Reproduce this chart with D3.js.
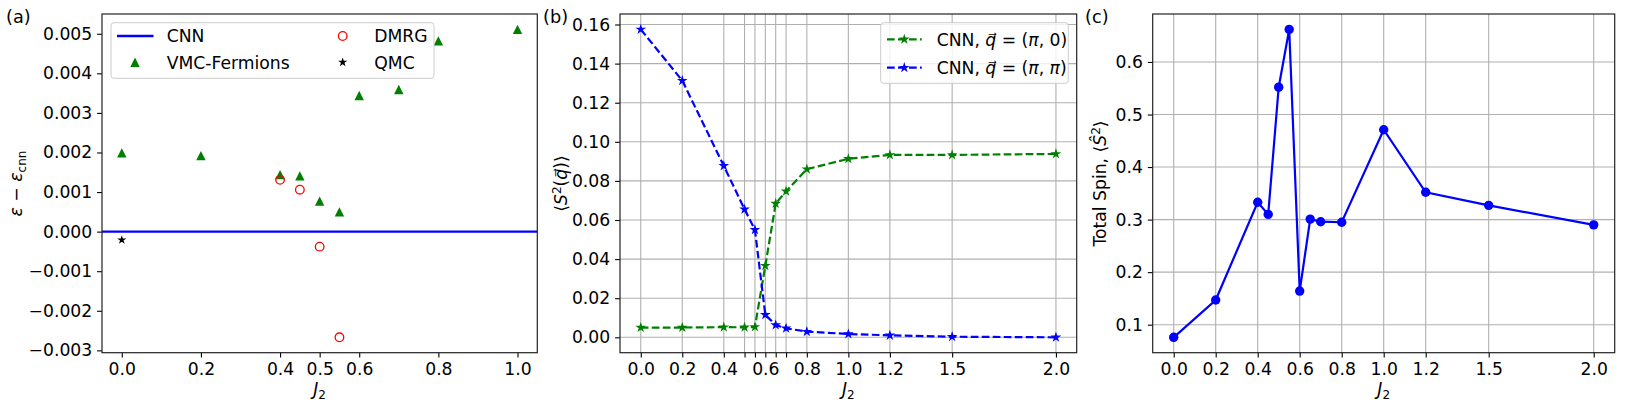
<!DOCTYPE html>
<html>
<head>
<meta charset="utf-8">
<script src="https://cdn.jsdelivr.net/npm/d3@7"></script>
<style>
  body { margin: 0; background: #fff; }
  svg text { font-family: "DejaVu Sans", sans-serif; }
</style>
</head>
<body>
<div id="cont"></div>
<script>
// ---- data ----
// panel (a): energy difference vs J2
var j2Vmc = [0, 0.2, 0.4, 0.45, 0.5, 0.55, 0.6, 0.7, 0.8, 1.0];
var vmcFermions = [0.00199, 0.00192, 0.00144, 0.00141, 0.00077, 0.00050, 0.00344, 0.00359, 0.00482, 0.00511];
var j2Dmrg = [0.4, 0.45, 0.5, 0.55];
var dmrg = [0.00131, 0.00106, -0.00038, -0.00267];
var j2Qmc = [0];
var qmc = [-0.00021];
var ticksA = [0, 0.2, 0.4, 0.5, 0.6, 0.8, 1.0];

// panel (b): structure factor
var j2B = [0, 0.2, 0.4, 0.5, 0.55, 0.6, 0.65, 0.7, 0.8, 1.0, 1.2, 1.5, 2.0];
var sPi0 = [0.0050, 0.0050, 0.0052, 0.0051, 0.0053, 0.0366, 0.0684, 0.0747, 0.0860, 0.0913, 0.0933, 0.0933, 0.0938];
var sPiPi = [0.1575, 0.1313, 0.0877, 0.0655, 0.0550, 0.0115, 0.0063, 0.0046, 0.0029, 0.0017, 0.0010, 0.0003, 0.0000];
var labelsB = [0, 0.2, 0.4, 0.6, 0.8, 1.0, 1.2, 1.5, 2.0];

// panel (c): total spin
var j2C = [0, 0.2, 0.4, 0.45, 0.5, 0.55, 0.6, 0.65, 0.7, 0.8, 1.0, 1.2, 1.5, 2.0];
var totalSpin = [0.076, 0.147, 0.333, 0.310, 0.552, 0.662, 0.164, 0.301, 0.296, 0.295, 0.471, 0.352, 0.327, 0.290];
var ticksC = [0, 0.2, 0.4, 0.6, 0.8, 1.0, 1.2, 1.5, 2.0];

var FS = 17.2;
var GREEN = "#008000", BLUE = "#0000ff", RED = "#ff0000";
var plotTop = 14, plotBottom = 352.7;

var svg = d3.select("#cont").append("svg")
    .attr("width", 1625)
    .attr("height", 408);

function padDomain(vals, frac) {
    var e = d3.extent(vals);
    var m = (e[1] - e[0]) * frac;
    return [e[0] - m, e[1] + m];
}

function starPath(R) {
    var r = R * 0.381966, pts = [];
    for (var i = 0; i < 10; i++) {
        var a = -Math.PI / 2 + i * Math.PI / 5;
        var rr = i % 2 ? r : R;
        pts.push([rr * Math.cos(a), rr * Math.sin(a)]);
    }
    return "M" + pts.join("L") + "Z";
}
function triPath(h) {
    return "M0," + (-h) + "L" + (-h) + "," + h + "L" + h + "," + h + "Z";
}

function styleAxis(g) {
    g.select(".domain").remove();
    g.selectAll(".tick line").attr("stroke", "#000").attr("stroke-width", 1.1);
    g.selectAll(".tick text").attr("font-size", FS).attr("font-family", "DejaVu Sans").attr("fill", "#000");
}

function frame(x0, x1) {
    svg.append("rect")
        .attr("x", x0).attr("y", plotTop)
        .attr("width", x1 - x0).attr("height", plotBottom - plotTop)
        .attr("fill", "none").attr("stroke", "#222").attr("stroke-width", 1.2);
}

function panelLabel(txt, x) {
    svg.append("text").attr("x", x).attr("y", 23)
        .attr("font-size", FS + 0.5).text(txt);
}

function xLabel(cx) {
    var t = svg.append("text").attr("x", cx).attr("y", 395)
        .attr("font-size", FS).attr("text-anchor", "middle");
    t.append("tspan").attr("font-style", "italic").text("J");
    t.append("tspan").attr("font-size", FS * 0.7).attr("dy", 3.5).text("2");
}

// ================= panel (a) =================
var xA = d3.scaleLinear().domain([-0.05, 1.05]).range([102, 537.3]);
var yA = d3.scaleLinear()
    .domain(padDomain(vmcFermions.concat(dmrg, qmc), 0.05))
    .range([plotBottom, plotTop]);

svg.append("g").attr("transform", "translate(0," + plotBottom + ")")
    .call(d3.axisBottom(xA).tickValues(ticksA).tickFormat(d3.format(".1f"))
        .tickSize(4.9).tickPadding(4.9))
    .call(styleAxis);
svg.append("g").attr("transform", "translate(102,0)")
    .call(d3.axisLeft(yA).tickValues(d3.range(-0.003, 0.0051, 0.001)).tickFormat(d3.format(".3f"))
        .tickSize(4.9).tickPadding(4.9))
    .call(styleAxis);

// CNN reference line
svg.append("line")
    .attr("x1", 102).attr("x2", 537.3)
    .attr("y1", yA(0)).attr("y2", yA(0))
    .attr("stroke", BLUE).attr("stroke-width", 2.3);

svg.append("g").selectAll("path")
    .data(j2Vmc.map(function (d, i) { return [d, vmcFermions[i]]; }))
    .enter().append("path")
    .attr("transform", function (d) { return "translate(" + xA(d[0]) + "," + yA(d[1]) + ")"; })
    .attr("d", triPath(4.7)).attr("fill", GREEN);

svg.append("g").selectAll("circle")
    .data(j2Dmrg.map(function (d, i) { return [d, dmrg[i]]; }))
    .enter().append("circle")
    .attr("cx", function (d) { return xA(d[0]); })
    .attr("cy", function (d) { return yA(d[1]); })
    .attr("r", 4.3).attr("fill", "none").attr("stroke", RED).attr("stroke-width", 1.3);

svg.append("g").selectAll("path")
    .data(j2Qmc.map(function (d, i) { return [d, qmc[i]]; }))
    .enter().append("path")
    .attr("transform", function (d) { return "translate(" + xA(d[0]) + "," + yA(d[1]) + ")"; })
    .attr("d", starPath(4.8)).attr("fill", "#000");

frame(102, 537.3);

// legend (a)
var legA = svg.append("g");
legA.append("rect").attr("x", 111).attr("y", 22.7).attr("width", 323).attr("height", 55.6)
    .attr("rx", 3).attr("fill", "#fff").attr("fill-opacity", 0.8).attr("stroke", "#cccccc");
legA.append("line").attr("x1", 117).attr("x2", 153.5).attr("y1", 36).attr("y2", 36)
    .attr("stroke", BLUE).attr("stroke-width", 2.3);
legA.append("path").attr("transform", "translate(135,62.3)").attr("d", triPath(4.7)).attr("fill", GREEN);
legA.append("circle").attr("cx", 342.7).attr("cy", 36).attr("r", 4.3)
    .attr("fill", "none").attr("stroke", RED).attr("stroke-width", 1.3);
legA.append("path").attr("transform", "translate(342.7,62.3)").attr("d", starPath(4.8)).attr("fill", "#000");
[["CNN", 166.7, 36], ["VMC-Fermions", 166.7, 62.3], ["DMRG", 374.3, 36], ["QMC", 374.3, 62.3]]
    .forEach(function (d) {
        legA.append("text").attr("x", d[1]).attr("y", d[2] + 6.3).attr("font-size", FS).text(d[0]);
    });

panelLabel("(a)", 6);
xLabel((102 + 537.3) / 2);
var ylA = svg.append("text").attr("transform", "translate(22,183.5) rotate(-90)")
    .attr("font-size", FS).attr("text-anchor", "middle");
ylA.append("tspan").attr("font-style", "italic").text("\u03b5");
ylA.append("tspan").text(" \u2212 ");
ylA.append("tspan").attr("font-style", "italic").text("\u03b5");
ylA.append("tspan").attr("font-size", FS * 0.7).attr("dy", 3.5).text("cnn");

// ================= panel (b) =================
var xB = d3.scaleLinear().domain([-0.1, 2.1]).range([620, 1076.7]);
var yB = d3.scaleLinear()
    .domain(padDomain(sPi0.concat(sPiPi), 0.05))
    .range([plotBottom, plotTop]);
var yTicksB = d3.range(0, 0.161, 0.02);

var gridB = svg.append("g").attr("stroke", "#b0b0b0").attr("stroke-width", 1.1);
gridB.selectAll(".v").data(j2B).enter().append("line")
    .attr("x1", xB).attr("x2", xB).attr("y1", plotTop).attr("y2", plotBottom);
gridB.selectAll(".h").data(yTicksB).enter().append("line")
    .attr("x1", 620).attr("x2", 1076.7).attr("y1", yB).attr("y2", yB);

svg.append("g").attr("transform", "translate(0," + plotBottom + ")")
    .call(d3.axisBottom(xB).tickValues(j2B)
        .tickFormat(function (d) { return labelsB.indexOf(d) >= 0 ? d3.format(".1f")(d) : ""; })
        .tickSize(4.9).tickPadding(4.9))
    .call(styleAxis);
svg.append("g").attr("transform", "translate(620,0)")
    .call(d3.axisLeft(yB).tickValues(yTicksB).tickFormat(d3.format(".2f"))
        .tickSize(4.9).tickPadding(4.9))
    .call(styleAxis);

var lineB = d3.line().x(function (d) { return xB(d[0]); }).y(function (d) { return yB(d[1]); });
[[sPi0, GREEN], [sPiPi, BLUE]].forEach(function (s) {
    var pts = j2B.map(function (d, i) { return [d, s[0][i]]; });
    svg.append("path").datum(pts).attr("d", lineB)
        .attr("fill", "none").attr("stroke", s[1]).attr("stroke-width", 2.2)
        .attr("stroke-dasharray", "7.7,3.3");
    svg.append("g").selectAll("path").data(pts).enter().append("path")
        .attr("transform", function (d) { return "translate(" + xB(d[0]) + "," + yB(d[1]) + ")"; })
        .attr("d", starPath(5.6)).attr("fill", s[1]);
});

frame(620, 1076.7);

// legend (b)
var legB = svg.append("g");
legB.append("rect").attr("x", 880.7).attr("y", 22.7).attr("width", 187.6).attr("height", 60.6)
    .attr("rx", 3).attr("fill", "#fff").attr("fill-opacity", 0.8).attr("stroke", "#cccccc");
[[GREEN, 39.3, "0"], [BLUE, 67.7, "\u03c0"]].forEach(function (d) {
    legB.append("line").attr("x1", 887).attr("x2", 921.7).attr("y1", d[1]).attr("y2", d[1])
        .attr("stroke", d[0]).attr("stroke-width", 2.2).attr("stroke-dasharray", "7.7,3.3");
    legB.append("path").attr("transform", "translate(904.3," + d[1] + ")")
        .attr("d", starPath(5.6)).attr("fill", d[0]);
    var t = legB.append("text").attr("x", 936.7).attr("y", d[1] + 6.3).attr("font-size", FS);
    t.append("tspan").text("CNN, ");
    t.append("tspan").attr("font-style", "italic").text("q\u20d7");
    t.append("tspan").text(" = (");
    t.append("tspan").attr("font-style", "italic").text("\u03c0");
    t.append("tspan").text(", ");
    if (d[2] === "0") t.append("tspan").text("0");
    else t.append("tspan").attr("font-style", "italic").text("\u03c0");
    t.append("tspan").text(")");
});

panelLabel("(b)", 543);
xLabel((620 + 1076.7) / 2);
var ylB = svg.append("text").attr("transform", "translate(567,183.5) rotate(-90)")
    .attr("font-size", FS).attr("text-anchor", "middle");
ylB.append("tspan").text("\u27e8");
ylB.append("tspan").attr("font-style", "italic").text("S");
ylB.append("tspan").attr("font-size", FS * 0.7).attr("dy", -6).text("2");
ylB.append("tspan").attr("dy", 6).text("(");
ylB.append("tspan").attr("font-style", "italic").text("q\u20d7");
ylB.append("tspan").text(")\u27e9");

// ================= panel (c) =================
var xC = d3.scaleLinear().domain([-0.1, 2.1]).range([1152.7, 1614.7]);
var yC = d3.scaleLinear()
    .domain(padDomain(totalSpin, 0.05))
    .range([plotBottom, plotTop]);
var yTicksC = [0.1, 0.2, 0.3, 0.4, 0.5, 0.6];

var gridC = svg.append("g").attr("stroke", "#b0b0b0").attr("stroke-width", 1.1);
gridC.selectAll(".v").data(ticksC).enter().append("line")
    .attr("x1", xC).attr("x2", xC).attr("y1", plotTop).attr("y2", plotBottom);
gridC.selectAll(".h").data(yTicksC).enter().append("line")
    .attr("x1", 1152.7).attr("x2", 1614.7).attr("y1", yC).attr("y2", yC);

svg.append("g").attr("transform", "translate(0," + plotBottom + ")")
    .call(d3.axisBottom(xC).tickValues(ticksC).tickFormat(d3.format(".1f"))
        .tickSize(4.9).tickPadding(4.9))
    .call(styleAxis);
svg.append("g").attr("transform", "translate(1152.7,0)")
    .call(d3.axisLeft(yC).tickValues(yTicksC).tickFormat(d3.format(".1f"))
        .tickSize(4.9).tickPadding(4.9))
    .call(styleAxis);

var ptsC = j2C.map(function (d, i) { return [d, totalSpin[i]]; });
svg.append("path").datum(ptsC)
    .attr("d", d3.line().x(function (d) { return xC(d[0]); }).y(function (d) { return yC(d[1]); }))
    .attr("fill", "none").attr("stroke", BLUE).attr("stroke-width", 2.2);
svg.append("g").selectAll("circle").data(ptsC).enter().append("circle")
    .attr("cx", function (d) { return xC(d[0]); })
    .attr("cy", function (d) { return yC(d[1]); })
    .attr("r", 4.7).attr("fill", BLUE);

frame(1152.7, 1614.7);

panelLabel("(c)", 1085);
xLabel((1152.7 + 1614.7) / 2);
var ylC = svg.append("text").attr("transform", "translate(1106,183.5) rotate(-90)")
    .attr("font-size", FS).attr("text-anchor", "middle");
ylC.append("tspan").text("Total Spin, \u27e8");
ylC.append("tspan").attr("font-style", "italic").text("S\u0302");
ylC.append("tspan").attr("font-size", FS * 0.7).attr("dy", -6).text("2");
ylC.append("tspan").attr("dy", 6).text("\u27e9");
</script>
</body>
</html>
